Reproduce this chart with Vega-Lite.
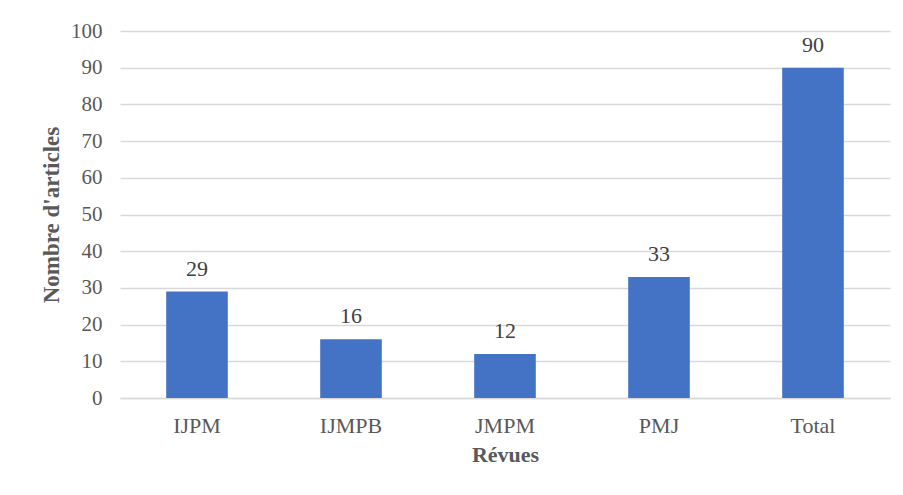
{
  "$schema": "https://vega.github.io/schema/vega-lite/v6.json",
  "autosize": {"type": "none"},
  "width": 770,
  "height": 367,
  "padding": {"left": 120, "top": 31, "right": 13, "bottom": 97},
  "background": "white",
  "config": {
    "view": {"stroke": null},
    "font": "Liberation Serif",
    "axis": {"labelFont": "Liberation Serif", "titleFont": "Liberation Serif", "labelColor": "#595959", "titleColor": "#595959"}
  },
  "data": {
    "values": [
      {"revue": "IJPM", "n": 29},
      {"revue": "IJMPB", "n": 16},
      {"revue": "JMPM", "n": 12},
      {"revue": "PMJ", "n": 33},
      {"revue": "Total", "n": 90}
    ]
  },
  "encoding": {
    "x": {
      "field": "revue", "type": "nominal", "sort": null,
      "scale": {"paddingInner": 0.6, "paddingOuter": 0.3},
      "axis": {"title": "Révues", "labelAngle": 0, "labelFontSize": 22, "labelPadding": 17, "ticks": false, "domainColor": "#d9d9d9", "domainWidth": 1.5, "titleFontSize": 22, "titleFontWeight": "bold", "titlePadding": 8}
    },
    "y": {
      "field": "n", "type": "quantitative",
      "scale": {"domain": [0, 100]},
      "axis": {"title": "Nombre d'articles", "values": [0,10,20,30,40,50,60,70,80,90,100], "labelFontSize": 21, "labelPadding": 18, "ticks": false, "domain": false, "gridColor": "#d9d9d9", "gridWidth": 1.5, "titleFontSize": 23, "titleFontWeight": "bold", "titlePadding": 7}
    }
  },
  "layer": [
    {"mark": {"type": "bar", "color": "#4472C4"}},
    {"mark": {"type": "text", "dy": -23, "fontSize": 22, "color": "#404040", "font": "Liberation Serif"}, "encoding": {"text": {"field": "n", "type": "quantitative"}}}
  ]
}
